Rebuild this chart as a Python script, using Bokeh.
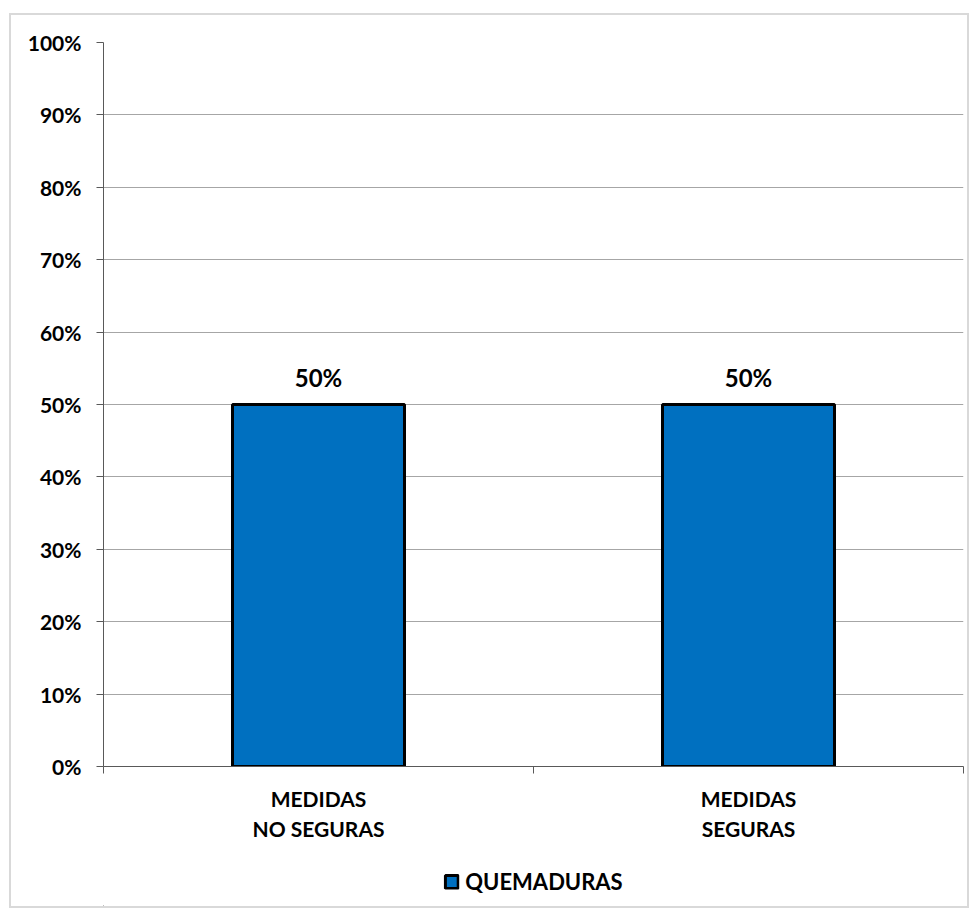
from bokeh.plotting import figure
from bokeh.layouts import column
from bokeh.core.properties import value
from bokeh.models import (Range1d, FixedTicker, NumeralTickFormatter, Legend, LegendItem,
                          ColumnDataSource, LabelSet)
from bokeh.embed import file_html
from bokeh.resources import INLINE

# Data
categories = ["MEDIDAS\nNO SEGURAS", "MEDIDAS\nSEGURAS"]
series_name = "QUEMADURAS"
values = [0.50, 0.50]
value_labels = ["50%", "50%"]
y_ticks = [0.0, 0.1, 0.2, 0.3, 0.4, 0.5, 0.6, 0.7, 0.8, 0.9, 1.0]

FONT = "Lato"
BAR_COLOR = "#0070C0"
AXIS_COLOR = "#595959"
GRID_COLOR = "#a6a6a6"

# one slot per category: centres at i + 0.5, slot edges at whole numbers
n = len(categories)
centers = [i + 0.5 for i in range(n)]
edges = list(range(n + 1))

source = ColumnDataSource(dict(x=centers, val=values, lbl=value_labels))

p = figure(
    x_range=Range1d(0, n),
    y_range=Range1d(0, 1),
    frame_width=860, frame_height=724,
    min_border_left=92, min_border_right=4, min_border_top=27, min_border_bottom=90,
    output_backend="svg", toolbar_location=None,
)
p.outline_line_color = None
p.background_fill_color = "white"
p.border_fill_color = "white"

bar_style = dict(fill_color=BAR_COLOR, line_color="black", line_width=3)
bars = p.vbar(x="x", top="val", width=0.4, source=source, **bar_style)

labels = LabelSet(x="x", y="val", text="lbl", source=source, y_offset=13,
                  text_align="center", text_baseline="bottom",
                  text_font=value(FONT), text_font_style="bold", text_font_size="24px",
                  text_color="black")
p.add_layout(labels)

# Y axis
p.yaxis.ticker = FixedTicker(ticks=y_ticks)
p.yaxis.formatter = NumeralTickFormatter(format="0%")
p.yaxis.axis_line_color = AXIS_COLOR
p.yaxis.major_tick_line_color = AXIS_COLOR
p.yaxis.major_tick_out = 7
p.yaxis.major_tick_in = 0
p.yaxis.minor_tick_line_color = None
p.yaxis.major_label_text_font = FONT
p.yaxis.major_label_text_font_style = "bold"
p.yaxis.major_label_text_font_size = "21px"
p.yaxis.major_label_text_color = "black"
p.yaxis.major_label_standoff = 15

p.ygrid.grid_line_color = GRID_COLOR
p.ygrid.grid_line_width = 1
p.xgrid.grid_line_color = None

# X axis: category names at slot centres, tick marks at slot edges
xa = p.xaxis[0]
xa.ticker = FixedTicker(ticks=centers, minor_ticks=edges)
xa.major_label_overrides = {c: lab for c, lab in zip(centers, categories)}
xa.axis_line_color = AXIS_COLOR
xa.major_tick_line_color = None
xa.major_tick_out = 7
xa.minor_tick_line_color = AXIS_COLOR
xa.minor_tick_out = 7
xa.minor_tick_in = 0
xa.major_label_text_font = FONT
xa.major_label_text_font_style = "bold"
xa.major_label_text_font_size = "21px"
xa.major_label_text_color = "black"
xa.major_label_standoff = 12

# Legend strip under the chart; its swatch renderer sits outside the visible range
leg_fig = figure(width=956, height=50, x_range=Range1d(0, 1), y_range=Range1d(0, 1),
                 x_axis_location=None, y_axis_location=None,
                 min_border=0, output_backend="svg", toolbar_location=None)
leg_fig.outline_line_color = None
leg_fig.grid.grid_line_color = None
leg_fig.border_fill_color = "white"
swatch = leg_fig.vbar(x=[-10], top=[0], width=0.4, **bar_style)

legend = Legend(items=[LegendItem(label=series_name, renderers=[swatch])],
                orientation="horizontal", location="center",
                label_text_font=FONT, label_text_font_style="bold",
                label_text_font_size="22px", label_text_color="black",
                glyph_width=16, glyph_height=16, label_standoff=6,
                border_line_color=None, background_fill_alpha=0,
                margin=0, padding=8)
leg_fig.add_layout(legend, "center")

layout = column(p, leg_fig, spacing=0,
                styles={"margin-left": "9px", "margin-top": "13px",
                        "border": "2px solid #d9d9d9", "background-color": "white"})

open("out.html", "w").write(file_html(layout, INLINE))
